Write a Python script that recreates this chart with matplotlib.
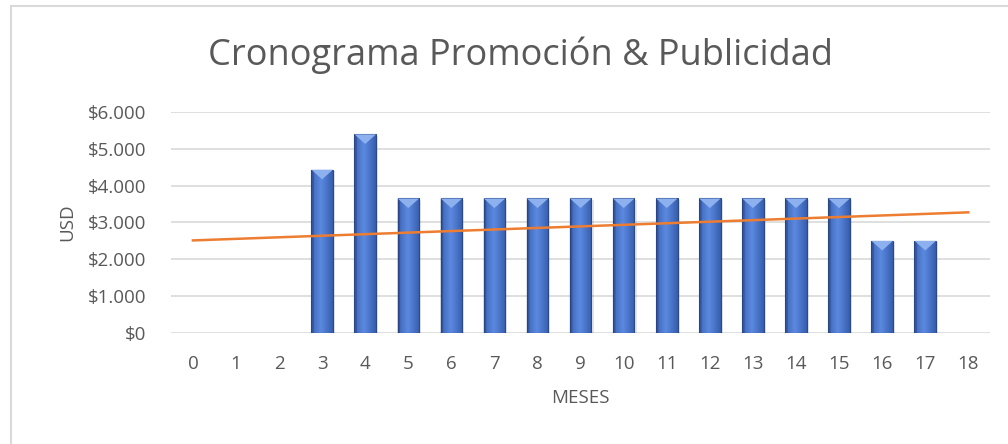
import numpy as np
import matplotlib.pyplot as plt
from matplotlib.patches import Rectangle, Polygon
from matplotlib.lines import Line2D
from matplotlib.ticker import FuncFormatter

# monthly promotion & advertising spend (USD), months 0..18
meses = list(range(19))
gasto = [0, 0, 0, 4430, 5390, 3650, 3650, 3650, 3650, 3650, 3650,
         3650, 3650, 3650, 3650, 3650, 2500, 2500, 0]
yticks = [0, 1000, 2000, 3000, 4000, 5000, 6000]

plt.rcParams['font.family'] = ['Open Sans', 'DejaVu Sans']
gris = '#595959'

fig = plt.figure(figsize=(10.08, 4.44), dpi=100)
ax = fig.add_axes([0.170, 0.25, 0.812, 0.498])

# chart frame (left and top edges only visible)
fig.add_artist(Line2D([11/1008, 11/1008], [0, 1 - 6/444], color='#D9D9D9',
                      lw=1.5, transform=fig.transFigure))
fig.add_artist(Line2D([11/1008, 1], [1 - 6/444, 1 - 6/444], color='#D9D9D9',
                      lw=1.5, transform=fig.transFigure))

ax.set_xlim(-0.5, 18.5)
ax.set_ylim(0, 6000)
for y in yticks:
    ax.axhline(y, color='#D9D9D9', lw=1.2, zorder=0)

# bevelled bars: horizontal gradient clipped to each bar + light top chamfer
ancho = 0.5
grad = np.linspace(0, 1, 64)
perfil = 1 - np.abs(grad - 0.45) * 1.5
perfil = np.clip(perfil, 0, 1)
c_dark = np.array([0.18, 0.33, 0.64])
c_light = np.array([0.36, 0.54, 0.88])
img = c_dark[None, :] + (c_light - c_dark)[None, :] * perfil[:, None]
img = img[None, :, :]
chaflan = 260
for x, v in zip(meses, gasto):
    if v <= 0:
        continue
    x0 = x - ancho / 2
    # soft shadow
    ax.add_patch(Rectangle((x0 + 0.03, 0), ancho + 0.02, v - 40,
                           facecolor='#000000', alpha=0.10, lw=0, zorder=1))
    rect = Rectangle((x0, 0), ancho, v, facecolor='none',
                     edgecolor='#2C4A88', lw=0.8, zorder=3)
    ax.add_patch(rect)
    im = ax.imshow(img, extent=[x0, x0 + ancho, 0, v], aspect='auto',
                   zorder=2, interpolation='bilinear')
    im.set_clip_path(rect)
    ax.add_patch(Polygon([[x0, v], [x0 + ancho, v], [x, v - chaflan]],
                         closed=True, facecolor='#8DB1EE', edgecolor='none',
                         zorder=3))
    ax.add_patch(Polygon([[x0, v], [x0 + 0.06, v - 60], [x0 + 0.06, 0],
                          [x0, 0]], closed=True, facecolor='#25407A',
                         alpha=0.45, edgecolor='none', zorder=3))

# linear trend over all months
m, b = np.polyfit(meses, gasto, 1)
xs = np.array([meses[0], meses[-1]])
ax.plot(xs, m * xs + b, color='#ED7D31', lw=1.8, zorder=4)

ax.set_xticks(meses)
ax.set_yticks(yticks)
ax.yaxis.set_major_formatter(
    FuncFormatter(lambda v, p: '$' + format(int(v), ',').replace(',', '.')))
ax.tick_params(length=0, labelsize=13.5, labelcolor=gris)
ax.tick_params(axis='y', pad=18)
ax.tick_params(axis='x', pad=16)
for s in ax.spines.values():
    s.set_visible(False)

ax.set_ylabel('USD', fontsize=13.5, color=gris, labelpad=8)
ax.set_xlabel('MESES', fontsize=13.5, color=gris, labelpad=11)
fig.text(0.516, 0.876, 'Cronograma Promoción & Publicidad', fontsize=26,
         color=gris, ha='center', va='center')

fig.savefig('out.png', dpi=100)
